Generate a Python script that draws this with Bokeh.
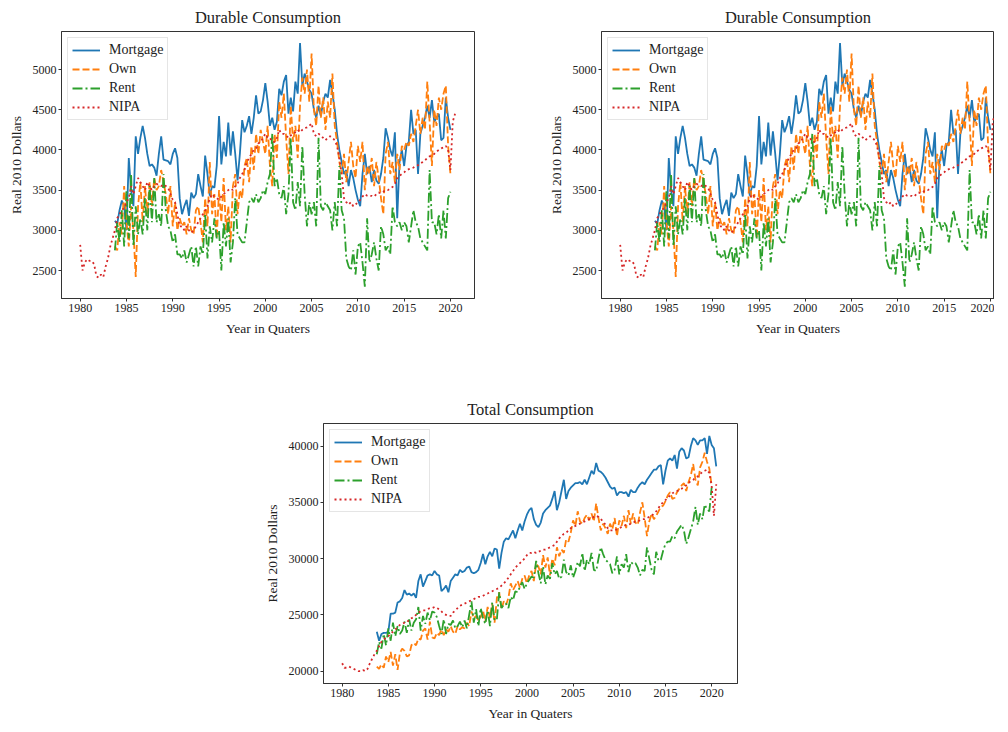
import numpy as np
from bokeh.plotting import figure
from bokeh.models import Range1d, FixedTicker, Spacer
from bokeh.layouts import row, column
from bokeh.embed import file_html
from bokeh.resources import INLINE

FONT = "Liberation Serif"
TEXT = "#222222"

# quarterly series; household series start 1983Q4, NIPA starts 1980Q1
HH_START = 1983.75
NIPA_START = 1980.0

names = ["Mortgage", "Own", "Rent", "NIPA"]
colors = ["#1f77b4", "#ff7f0e", "#2ca02c", "#d62728"]
dashes = ["solid", "7 3", "10 3 2 3", "2 3"]

# ---- durable consumption (real 2010 dollars)
dur_mortgage = [3120,
    3080, 3250, 3370, 3300,  3000, 3900, 3500, 3300,  4170, 3950, 4150, 4300,
    4150, 3950, 3800, 3820,  3780, 3680, 3950, 4170,  3880, 3870, 3860, 3820,
    3950, 4020, 3900, 3400,  3200, 3300, 3380, 3180,  3470, 3400, 3450, 3700,
    3550, 3420, 3930, 3700,  3430, 3550, 3530, 3800,  4420, 3820, 4100, 3920,
    4340, 3930, 4230, 3950,  3620, 3950, 4370, 4220,  4300, 4420, 4200, 4400,
    4680, 4450, 4480, 4620,  4830, 4600, 4300, 4400,  4250, 4350, 4760, 4680,
    4850, 4930, 4450, 4650,  4480, 4850, 4700, 5330,  4800, 4950, 4850, 4750,
    4700, 4500, 4400, 4550,  4420, 4600, 4700, 4650,  4870, 4700, 4500, 4200,
    4000, 3850, 3700, 3750,  3550, 3750, 3650, 3500,  3380, 3300, 3700, 3950,
    3700, 3800, 3600, 3750,  3620, 3580, 3700, 3900,  4270, 4150, 4000, 3920,
    4220, 3150, 3850, 4000,  3800, 4050, 4100, 4500,  4200, 4250, 3700, 4200,
    4300, 4400, 4550, 4400,  4620, 4350, 4400, 4450,  4120, 4150, 4650, 4400,
    4250]
dur_own = [2800,
    2750, 3100, 2950, 3550,  3100, 2800, 3300, 3000,  2420, 3300, 3600, 3100,
    3550, 3200, 3600, 3300,  3650, 3500, 3550, 3750,  3600, 3450, 3200, 3550,
    3050, 3350, 3000, 3150,  3050, 3100, 2950, 3150,  3000, 2950, 3250, 3300,
    3100, 2850, 3400, 3050,  3850, 3200, 3450, 2900,  3500, 3100, 3650, 3000,
    3300, 2850, 3550, 3700,  3200, 3500, 3400, 3800,  3900, 3600, 4050, 3750,
    4200, 3950, 4250, 4100,  3950, 4300, 3800, 3550,  4200, 3900, 4600, 4400,
    4700, 4150, 3700, 4550,  4100, 4300, 3900, 4550,  4900, 4700, 5000, 4600,
    5200, 4500, 4300, 4800,  4400, 4650, 4250, 4600,  4400, 4950, 4300, 4100,
    3850, 3700, 3950, 3600,  3850, 4100, 3800, 3650,  4050, 3850, 4100, 3500,
    3800, 3700, 3900, 3550,  3850, 3650, 3400, 3200,  3950, 4100, 3700, 3850,
    3600, 3950, 3750, 4050,  4000, 4100, 4050, 4200,  4100, 4300, 4500, 4200,
    4400, 4250, 4850, 4350,  3800, 4500, 4300, 4650,  4500, 4700, 4800, 4050,
    3700]
dur_rent = [2750,
    3100, 2850, 3250, 2800,  3500, 2900, 3700, 2800,  3300, 2950, 3150, 2950,
    3400, 3000, 3550, 3100,  3650, 3100, 3200, 3050,  3700, 3250, 3050, 3000,
    2850, 2950, 2700, 2700,  2650, 2750, 2600, 2700,  2800, 2550, 2800, 2550,
    2800, 2700, 3200, 2650,  3050, 2850, 3150, 2900,  3000, 2500, 3100, 2800,
    3150, 2600, 2850, 3400,  2950, 2900, 2850, 2850,  3100, 3350, 3400, 3350,
    3450, 3350, 3400, 3500,  3450, 3600, 3700, 4200,  3550, 3650, 3450, 3400,
    3550, 3200, 3450, 4150,  3350, 3250, 3600, 3300,  4050, 3450, 3050, 3350,
    3200, 3350, 3050, 4150,  3300, 3250, 3350, 3300,  3250, 3000, 3350, 3050,
    3800, 3250, 3150, 2650,  2550, 2500, 2750, 2450,  2800, 2850, 2600, 2300,
    3150, 2600, 2700, 2850,  2650, 2500, 3050, 2950,  2750, 2800, 2700, 3300,
    3100, 3050, 3100, 3000,  3100, 3050, 2850, 3050,  3250, 3100, 3050, 2900,
    2850, 2800, 2750, 3750,  3100, 3100, 2950, 3200,  2900, 3250, 2900, 3400,
    3480]
dur_nipa = [
    2820, 2500, 2600, 2640,  2620, 2620, 2580, 2430,  2410, 2450, 2420, 2550,
    2650, 2800, 2900, 3000,  3150, 3200, 3250, 3280,  3350, 3400, 3550, 3450,
    3550, 3650, 3600, 3550,  3500, 3600, 3550, 3500,  3550, 3580, 3560, 3550,
    3570, 3550, 3530, 3450,  3380, 3350, 3200, 3050,  3050, 3000, 3050, 3000,
    2970, 3000, 3050, 3100,  3150, 3200, 3250, 3300,  3400, 3450, 3420, 3400,
    3380, 3420, 3450, 3480,  3500, 3520, 3500, 3550,  3580, 3650, 3700, 3750,
    3850, 3900, 3950, 4000,  4020, 4080, 4100, 4150,  4200, 4150, 4150, 4100,
    4100, 4150, 4250, 4200,  4200, 4180, 4150, 4180,  4200, 4220, 4250, 4220,
    4250, 4270, 4280, 4300,  4330, 4200, 4170, 4200,  4180, 4150, 4120, 4150,
    4170, 4150, 4120, 4050,  3900, 3700, 3400, 3350,  3320, 3350, 3300, 3320,
    3350, 3380, 3420, 3450,  3430, 3420, 3430, 3420,  3450, 3470, 3460, 3480,
    3500, 3500, 3520, 3540,  3580, 3650, 3680, 3700,  3720, 3750, 3760, 3770,
    3780, 3800, 3810, 3830,  3850, 3870, 3900, 3920,  3930, 3950, 3980, 4000,
    4020, 4030, 4050, 4000,  3750, 4350, 4450]

# ---- total consumption (real 2010 dollars)
tot_mortgage = [23500,
    22700, 23300, 23400, 23400,  23500, 25100, 25100, 25200,  26100, 26200, 26500, 27200,
    26800, 26900, 26700, 26900,  26500, 28000, 28600, 27500,  28000, 28500, 28600, 28500,
    28900, 28600, 28500, 27100,  27300, 27600, 27000, 28000,  28300, 28600, 28500, 29000,
    28800, 28900, 29200, 29300,  28800, 28700, 28800, 29000,  29600, 30400, 29500, 30200,
    30600, 30200, 30900, 30800,  29100, 30500, 31500, 31800,  31700, 32100, 32500, 31800,
    32500, 33100, 32500, 33300,  33900, 34300, 34500, 33500,  33000, 32800, 33200, 34000,
    34300, 34500, 34700, 35300,  36000, 34300, 35000, 36000,  37000, 35300, 36000, 36300,
    36500, 36700, 36700, 36800,  36600, 37000, 36600, 37200,  37800, 37500, 38500, 37800,
    37700, 37500, 37200, 36800,  36400, 36200, 36300, 35600,  35900, 35900, 35800, 35900,
    35500, 36100, 35900, 35900,  36300, 36600, 36800, 36600,  37000, 37300, 37600, 37900,
    37900, 38200, 38300, 36600,  37800, 38700, 38900, 38700,  39200, 38000, 39500, 39800,
    39600, 38900, 39000, 40000,  40700, 40500, 40100, 40500,  40500, 40700, 39300, 40900,
    40100, 39800, 38200]
tot_own = [20400,
    20200, 20600, 20300, 21300,  20800, 21700, 20500, 21500,  20100, 21600, 22000, 21800,
    21300, 21400, 22300, 22500,  22300, 22900, 22800, 23600,  23800, 22800, 24400, 23000,
    22900, 23400, 23200, 23700,  23200, 23700, 23500, 24000,  23500, 23300, 24000, 23700,
    23900, 23800, 24300, 24000,  25300, 24700, 24900, 24500,  24800, 25400, 24400, 25700,
    24700, 26000, 24300, 26500,  27000, 25500, 26200, 25900,  26500, 27800, 27200, 27600,
    28000, 27400, 28200, 28500,  27800, 28500, 28900, 28000,  29500, 29300, 28600, 30300,
    29200, 30100, 28500, 30000,  29400, 31000, 30200, 30800,  30500, 31700, 31500, 32300,
    33400, 32900, 34200, 33300,  33100, 33600, 33900, 33400,  34000, 33300, 34900, 33600,
    32500, 33100, 32700, 32200,  33100, 32600, 33600, 32000,  33400, 32900, 33800, 32700,
    34300, 33100, 34000, 33200,  33000, 34100, 35000, 33600,  32000, 33300, 34000, 33500,
    33800, 34200, 34600, 34700,  35100, 35600, 35900, 35300,  35400, 35900, 36200, 36500,
    36700, 36000, 36800, 37400,  38400, 37000, 36500, 38100,  38600, 39400, 38600, 38000,
    36500]
tot_rent = [21500,
    22600, 22000, 23300, 22300,  23800, 22700, 24300, 23100,  24000, 23300, 23600, 24400,
    23400, 24600, 23600, 24300,  24600, 25700, 23600, 24900,  24200, 25200, 24500, 25300,
    25200, 24800, 24000, 23300,  24600, 23300, 24200, 24100,  24500, 23800, 24000, 24400,
    23900, 24500, 23800, 25000,  26200, 24300, 25500, 24000,  25600, 24700, 24200, 25400,
    24000, 26100, 24500, 24600,  27000, 25600, 25900, 26000,  25600, 26600, 26300, 27100,
    27000, 27500, 27900, 27300,  27800, 28100, 28400, 28300,  29800, 28700, 27800, 29300,
    27700, 28500, 28200, 29600,  28600, 28900, 28200, 28400,  29900, 28800, 28500, 29400,
    28300, 28900, 29700, 29300,  30500, 28900, 29900, 29500,  30500, 29000, 28900, 30000,
    31000, 30400, 29900, 29700,  29500, 28700, 29000, 30200,  28600, 29500, 29200, 30400,
    28800, 29700, 29500, 29600,  29200, 28500, 29000, 28900,  31000, 30000, 29000, 28600,
    30600, 29800, 29900, 30700,  31300, 31500, 31500, 32000,  31800, 32400, 32700, 33000,
    32500, 31300, 31900, 32600,  33300, 34600, 33000, 34000,  33500, 34800, 34400, 34200,
    36300]
tot_nipa = [
    20700, 20300, 20300, 20400,  20300, 20200, 20100, 20000,  20000, 20100, 20000, 20200,
    20700, 21100, 21500, 21800,  22200, 22600, 22800, 23000,  23100, 23300, 23500, 23700,
    23900, 24100, 24200, 24300,  24300, 24600, 24700, 24800,  25000, 25200, 25300, 25400,
    25400, 25500, 25600, 25600,  25700, 25600, 25500, 25300,  25100, 25000, 24900, 24900,
    25200, 25400, 25600, 25800,  25900, 26000, 26100, 26200,  26300, 26400, 26500, 26600,
    26600, 26700, 26800, 26900,  27000, 27100, 27200, 27300,  27400, 27600, 27800, 28000,
    28300, 28600, 28900, 29200,  29400, 29600, 29800, 30000,  30300, 30500, 30500, 30600,
    30500, 30600, 30700, 30800,  30800, 30900, 31000, 31100,  31200, 31500, 31800, 32000,
    32200, 32300, 32500, 32700,  32800, 32900, 33000, 33100,  33200, 33300, 33400, 33500,
    33600, 33700, 33800, 33700,  33500, 33300, 33000, 32700,  32500, 32500, 32500, 32600,
    32700, 32800, 32900, 33000,  33000, 33100, 33200, 33300,  33300, 33400, 33500, 33500,
    33600, 33700, 33800, 34000,  34200, 34500, 34800, 35000,  35200, 35400, 35600, 35800,
    35900, 36000, 36100, 36200,  36400, 36500, 36700, 36900,  37000, 37200, 37300, 37500,
    37700, 37800, 37900, 37600,  36500, 33800, 36600]

x_ticks = list(range(1980, 2021, 5))
dur_ticks = [2500, 3000, 3500, 4000, 4500, 5000]
tot_ticks = [20000, 25000, 30000, 35000, 40000]


def make_panel(title, series, y_range, y_ticks, frame_w, frame_h, x_end,
               left=55, right=10):
    """One matplotlib-like panel with four quarterly lines."""
    p = figure(frame_width=frame_w, frame_height=frame_h,
               x_range=Range1d(1977.98, x_end), y_range=Range1d(*y_range),
               min_border_left=left, min_border_right=right,
               min_border_top=19, min_border_bottom=0,
               output_backend="svg", toolbar_location=None)

    for name, color, dash, vals in zip(names, colors, dashes, series):
        start = NIPA_START if name == "NIPA" else HH_START
        xs = start + 0.25 * np.arange(len(vals))
        p.line(xs, vals, color=color, line_width=1.8, line_dash=dash,
               legend_label=name)

    p.title.text = title
    p.title.align = "center"
    p.title.text_font = FONT
    p.title.text_font_size = "16.5px"
    p.title.text_font_style = "normal"
    p.title.text_color = TEXT

    p.xgrid.visible = False
    p.ygrid.visible = False
    p.outline_line_color = "#333333"

    p.xaxis.ticker = FixedTicker(ticks=x_ticks)
    p.yaxis.ticker = FixedTicker(ticks=y_ticks)
    p.xaxis.axis_label = "Year in Quaters"
    p.yaxis.axis_label = "Real 2010 Dollars"
    for ax in (p.xaxis, p.yaxis):
        ax.axis_line_color = "#333333"
        ax.major_tick_line_color = "#333333"
        ax.major_tick_in = 0
        ax.major_tick_out = 3
        ax.minor_tick_line_color = None
        ax.major_label_text_font = FONT
        ax.major_label_text_font_size = "12px"
        ax.major_label_text_color = TEXT
        ax.major_label_standoff = 2
        ax.axis_label_text_font = FONT
        ax.axis_label_text_font_size = "13.5px"
        ax.axis_label_text_font_style = "normal"
        ax.axis_label_text_color = TEXT
        ax.axis_label_standoff = 6

    lg = p.legend[0]
    lg.location = "top_left"
    lg.margin = 6
    lg.padding = 4
    lg.spacing = 3
    lg.glyph_width = 28
    lg.glyph_height = 16
    lg.label_height = 16
    lg.label_standoff = 9
    lg.label_text_font = FONT
    lg.label_text_font_size = "14px"
    lg.label_text_color = TEXT
    lg.border_line_color = "#cccccc"
    lg.background_fill_alpha = 0.8
    return p


durable = [dur_mortgage, dur_own, dur_rent, dur_nipa]
total = [tot_mortgage, tot_own, tot_rent, tot_nipa]

p1 = make_panel("Durable Consumption", durable, (2152, 5473), dur_ticks,
                413, 267, 2022.6)
# right panel is cut by the window edge, so its frame is narrower
p2 = make_panel("Durable Consumption", durable, (2152, 5473), dur_ticks,
                393, 267, 2020.44, right=0)
p3 = make_panel("Total Consumption", total, (18900, 42000), tot_ticks,
                414, 260, 2022.8, left=62)

layout = column(
    row(Spacer(width=5), p1, Spacer(width=61), p2),
    Spacer(height=54),
    row(Spacer(width=261), p3),
)

open("out.html", "w").write(file_html(layout, INLINE))
